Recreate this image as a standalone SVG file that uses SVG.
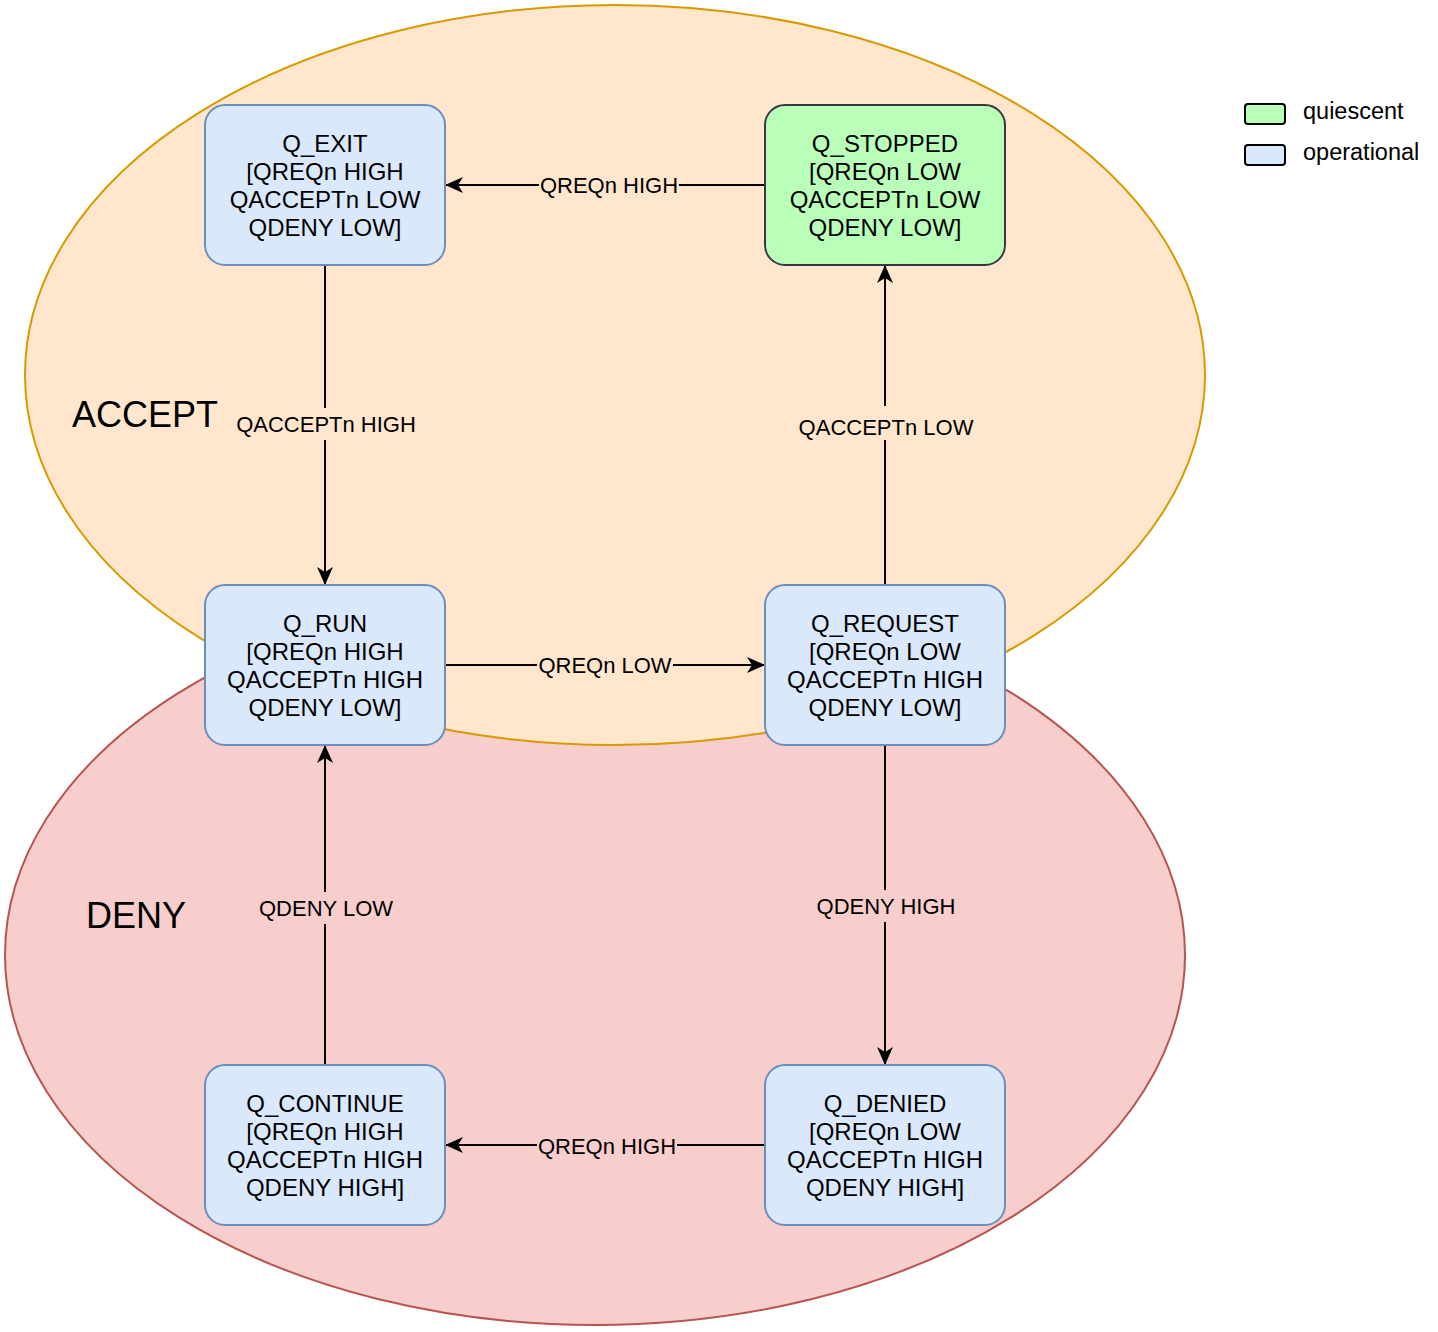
<svg xmlns="http://www.w3.org/2000/svg" width="1438" height="1332" viewBox="0 0 1438 1332">
<defs>
<style>
text{font-family:"Liberation Sans",Arial,Helvetica,sans-serif;fill:#000;text-anchor:middle}
.node rect{fill:#dae8fc;stroke:#6c8ebf;stroke-width:2}
#q_stopped rect{fill:#b9ffb9;stroke:#36393d}
.node text{font-size:24px}
.edge{stroke:#000;stroke-width:2;fill:none}
.lbl{font-size:22px}
.bgA{fill:#ffe6cc}
.bgD{fill:#f8cecc}
.region{font-size:36px;text-anchor:start}
.legend{font-size:23.5px;text-anchor:start}
</style>
<marker id="arr" markerUnits="userSpaceOnUse" markerWidth="20" markerHeight="18" viewBox="0 0 20 18" refX="18" refY="9" orient="auto">
<path d="M0,1 L18,9 L0,17 L5,9 Z" fill="#000"/>
</marker>
</defs>
<rect width="1438" height="1332" fill="#fff"/>
<g id="deny-region">
<ellipse cx="595" cy="955" rx="590" ry="370" fill="#f8cecc" stroke="#b85450" stroke-width="2"/>
</g>
<g id="accept-region">
<ellipse cx="615" cy="375" rx="590" ry="370" fill="#ffe6cc" stroke="#d79b00" stroke-width="2"/>
</g>
<text class="region" x="72" y="427">ACCEPT</text>
<text class="region" x="86" y="928">DENY</text>
<g id="connectors">
<path class="edge" d="M765,185 H445" marker-end="url(#arr)"/>
<path class="edge" d="M325,265 V585" marker-end="url(#arr)"/>
<path class="edge" d="M445,665 H765" marker-end="url(#arr)"/>
<path class="edge" d="M885,585 V265" marker-end="url(#arr)"/>
<path class="edge" d="M885,745 V1065" marker-end="url(#arr)"/>
<path class="edge" d="M765,1145 H445" marker-end="url(#arr)"/>
<path class="edge" d="M325,1065 V745" marker-end="url(#arr)"/>
<rect class="bgA" x="539" y="172" width="140" height="26"/>
<text class="lbl" x="609" y="193">QREQn HIGH</text>
<rect class="bgA" x="236" y="408" width="180" height="32"/>
<text class="lbl" x="326" y="432">QACCEPTn HIGH</text>
<rect class="bgA" x="537" y="652" width="136" height="26"/>
<text class="lbl" x="605" y="673">QREQn LOW</text>
<rect class="bgA" x="798" y="406" width="176" height="34"/>
<text class="lbl" x="886" y="435">QACCEPTn LOW</text>
<rect class="bgD" x="815" y="890" width="142" height="32"/>
<text class="lbl" x="886" y="914">QDENY HIGH</text>
<rect class="bgD" x="537" y="1133" width="140" height="26"/>
<text class="lbl" x="607" y="1154">QREQn HIGH</text>
<rect class="bgD" x="258" y="892" width="136" height="32"/>
<text class="lbl" x="326" y="916">QDENY LOW</text>
</g>
<g id="q_exit" class="node">
<rect x="205" y="105" width="240" height="160" rx="20"/>
<text x="325" y="152">Q_EXIT</text>
<text x="325" y="180">[QREQn HIGH</text>
<text x="325" y="208">QACCEPTn LOW</text>
<text x="325" y="236">QDENY LOW]</text>
</g>
<g id="q_stopped" class="node">
<rect x="765" y="105" width="240" height="160" rx="20"/>
<text x="885" y="152">Q_STOPPED</text>
<text x="885" y="180">[QREQn LOW</text>
<text x="885" y="208">QACCEPTn LOW</text>
<text x="885" y="236">QDENY LOW]</text>
</g>
<g id="q_run" class="node">
<rect x="205" y="585" width="240" height="160" rx="20"/>
<text x="325" y="632">Q_RUN</text>
<text x="325" y="660">[QREQn HIGH</text>
<text x="325" y="688">QACCEPTn HIGH</text>
<text x="325" y="716">QDENY LOW]</text>
</g>
<g id="q_request" class="node">
<rect x="765" y="585" width="240" height="160" rx="20"/>
<text x="885" y="632">Q_REQUEST</text>
<text x="885" y="660">[QREQn LOW</text>
<text x="885" y="688">QACCEPTn HIGH</text>
<text x="885" y="716">QDENY LOW]</text>
</g>
<g id="q_continue" class="node">
<rect x="205" y="1065" width="240" height="160" rx="20"/>
<text x="325" y="1112">Q_CONTINUE</text>
<text x="325" y="1140">[QREQn HIGH</text>
<text x="325" y="1168">QACCEPTn HIGH</text>
<text x="325" y="1196">QDENY HIGH]</text>
</g>
<g id="q_denied" class="node">
<rect x="765" y="1065" width="240" height="160" rx="20"/>
<text x="885" y="1112">Q_DENIED</text>
<text x="885" y="1140">[QREQn LOW</text>
<text x="885" y="1168">QACCEPTn HIGH</text>
<text x="885" y="1196">QDENY HIGH]</text>
</g>
<g id="legend">
<rect x="1245" y="104" width="40" height="20" rx="3" fill="#b9ffb9" stroke="#000" stroke-width="2"/>
<text class="legend" x="1303" y="119">quiescent</text>
<rect x="1245" y="145" width="40" height="20" rx="3" fill="#dae8fc" stroke="#000" stroke-width="2"/>
<text class="legend" x="1303" y="160">operational</text>
</g>
</svg>
